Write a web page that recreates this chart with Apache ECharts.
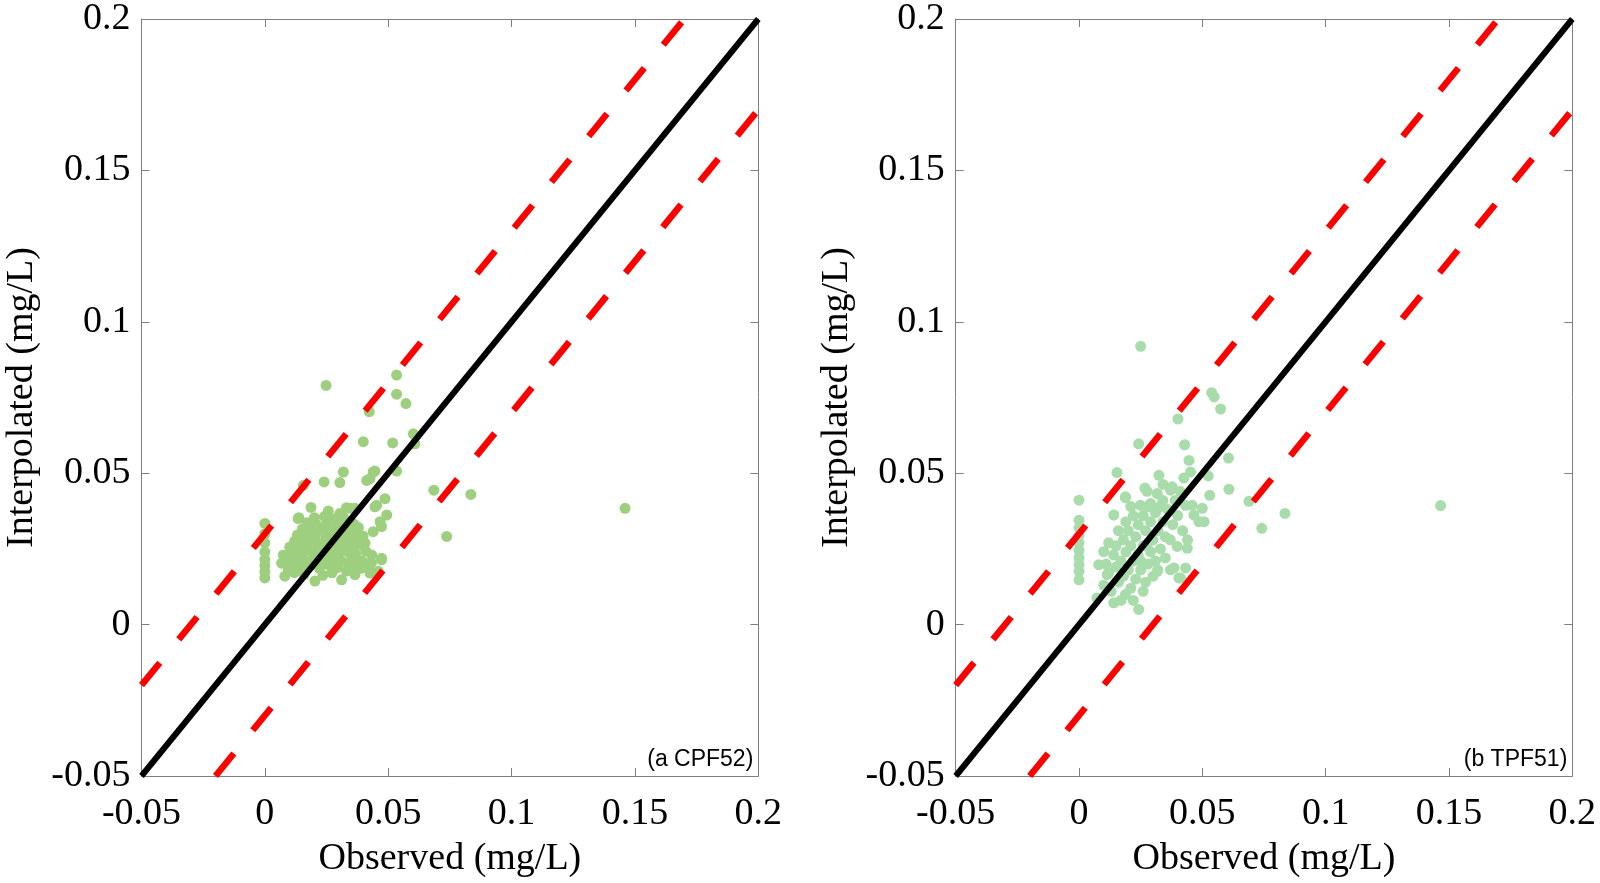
<!DOCTYPE html>
<html>
<head>
<meta charset="utf-8">
<script src="https://cdn.jsdelivr.net/npm/echarts@6/dist/echarts.min.js"></script>
<style>
html,body{margin:0;padding:0;background:#fff;}
#chart{width:1600px;height:883px;}
</style>
</head>
<body>
<div id="chart"></div>
<script>
// ---- data ----
var axisMin = -0.05, axisMax = 0.2, axisStep = 0.05;
var tickLabels = ['-0.05', '0', '0.05', '0.1', '0.15', '0.2'];
var xTitle = 'Observed (mg/L)';
var yTitle = 'Interpolated (mg/L)';
var panelLabels = ['(a CPF52)', '(b TPF51)'];

var oneToOne = [[-0.05, -0.05], [0.2, 0.2]];
var upperBand = [[-0.05, -0.02], [0.17, 0.2]];
var lowerBand = [[-0.02, -0.05], [0.2, 0.17]];

var cpf52 = [
  [0,0.0154],[0,0.0175],[0,0.0195],[0,0.0215],[0,0.024],[0,0.027],[0,0.030],[0,0.0334],
  [0.0248,0.079],[0.0534,0.0824],[0.0534,0.0761],[0.0572,0.073],[0.0423,0.0703],[0.0399,0.0604],
  [0.0518,0.060],[0.0602,0.063],[0.0608,0.0597],[0.0318,0.0504],[0.0446,0.0507],[0.0534,0.0507],
  [0.0439,0.0504],[0.024,0.0471],[0.0304,0.0469],[0.0426,0.0482],[0.0413,0.0476],[0.0156,0.046],
  [0.0685,0.0444],[0.0835,0.043],[0.0737,0.0291],[0.146,0.0384],
  [0.0187,0.0387],[0.0257,0.0375],[0.0138,0.0353],[0.0331,0.0386],[0.0365,0.0384],[0.0453,0.0394],
  [0.0487,0.0416],[0.0494,0.0362],[0.0467,0.034],[0.0446,0.0389],[0.0473,0.0324],[0.0304,0.0367],
  [0.0345,0.0384],[0.0439,0.0307],[0.0406,0.0269],[0.0433,0.023],[0.0473,0.0214],[0.046,0.0176],
  [0.0426,0.0176],[0.0473,0.0219],
  [0.0081,0.016],[0.0203,0.0144],[0.0311,0.0148],[0.0365,0.0165],[0.0426,0.017],[0.0075,0.023],
  [0.0068,0.0203],[0.0095,0.0181],[0.0135,0.035],
  [0.012,0.0172],[0.016,0.0166],[0.0235,0.0163],[0.0272,0.0171],[0.0331,0.0177],[0.0388,0.0186],
  [0.0108,0.0196],[0.0143,0.0189],[0.0182,0.0193],[0.0221,0.0186],[0.0258,0.0197],[0.0293,0.0188],[0.0342,0.0199],[0.0371,0.0191],[0.0412,0.0201],
  [0.0092,0.0213],[0.0129,0.0216],[0.0163,0.0209],[0.0198,0.0215],[0.0243,0.0207],[0.0281,0.0217],[0.0312,0.0209],[0.0352,0.0219],[0.0392,0.0211],[0.0432,0.0204],
  [0.0112,0.0236],[0.0151,0.0231],[0.0188,0.0239],[0.0223,0.0229],[0.0262,0.0237],[0.0297,0.0231],[0.0334,0.0241],[0.0368,0.0233],[0.0409,0.0243],
  [0.0101,0.0256],[0.0139,0.0251],[0.0172,0.0259],[0.0211,0.0249],[0.0248,0.0257],[0.0283,0.0251],[0.0318,0.0261],[0.0357,0.0253],[0.0392,0.0263],
  [0.0121,0.0276],[0.0158,0.0271],[0.0202,0.0279],[0.0232,0.0269],[0.0269,0.0277],[0.0308,0.0271],[0.0343,0.0281],[0.0378,0.0273],
  [0.0132,0.0296],[0.0171,0.0291],[0.0209,0.0299],[0.0249,0.0289],[0.0288,0.0297],[0.0322,0.0291],[0.0361,0.0301],[0.0398,0.0293],
  [0.0152,0.0316],[0.0189,0.0311],[0.0231,0.0319],[0.0268,0.0309],[0.0301,0.0317],[0.0339,0.0311],[0.0379,0.0321],
  [0.0171,0.0336],[0.0208,0.0331],[0.0252,0.0339],[0.0291,0.0329],[0.0329,0.0337],[0.0362,0.0331],
  [0.0201,0.0353],[0.0242,0.0357],[0.0279,0.0349],[0.0318,0.0356]
];

var tpf51 = [
  [0,0.0148],[0,0.0176],[0,0.0198],[0,0.022],[0,0.0245],[0,0.027],[0,0.0295],[0,0.032],[0,0.0345],[0,0.0411],
  [0.025,0.0919],[0.0538,0.0766],[0.0548,0.0752],[0.0574,0.0712],[0.0401,0.0679],[0.0242,0.0597],
  [0.0428,0.0594],[0.0446,0.0542],[0.0606,0.055],[0.0154,0.0502],[0.0324,0.0493],[0.0267,0.0451],
  [0.0188,0.0419],[0.0341,0.0463],[0.0378,0.0455],[0.0425,0.0484],[0.0452,0.0504],[0.0524,0.0491],
  [0.0608,0.0447],[0.0689,0.0407],[0.0741,0.0318],[0.0835,0.0367],[0.1466,0.0393],[0.053,0.0427],
  [0.0459,0.0394],[0.0486,0.034],[0.05,0.0384],[0.0141,0.0362],[0.0188,0.0422],[0.0276,0.044],
  [0.0317,0.0433],[0.0371,0.0444],[0.0249,0.0394],[0.029,0.04],[0.0432,0.0394],[0.0466,0.0362],[0.0507,0.034],
  [0.0141,0.0072],[0.0242,0.005],[0.0188,0.0099],[0.0073,0.0088],[0.0371,0.0181],[0.0405,0.0154],
  [0.0432,0.0187],[0.0317,0.0176],[0.0439,0.0252],[0.0398,0.0258],[0.01,0.0241],[0.008,0.0198],
  [0.0114,0.0165],[0.0385,0.0187],[0.0411,0.0154],
  [0.010,0.013],[0.013,0.011],[0.016,0.014],[0.012,0.017],[0.015,0.019],[0.018,0.016],[0.021,0.012],
  [0.020,0.018],[0.023,0.015],[0.017,0.021],[0.014,0.023],[0.019,0.024],[0.022,0.021],[0.025,0.018],
  [0.027,0.014],[0.028,0.020],[0.024,0.023],[0.021,0.026],[0.018,0.028],[0.016,0.031],[0.020,0.031],
  [0.023,0.029],[0.026,0.026],[0.029,0.024],[0.031,0.021],[0.033,0.025],[0.030,0.028],[0.027,0.031],
  [0.024,0.033],[0.022,0.036],[0.026,0.036],[0.029,0.034],[0.032,0.031],[0.035,0.029],[0.034,0.034],
  [0.031,0.037],[0.028,0.039],[0.036,0.038],[0.038,0.033],[0.040,0.036],[0.039,0.041],[0.034,0.041],
  [0.037,0.028],[0.035,0.022],[0.012,0.027],[0.015,0.026],[0.019,0.034],[0.030,0.016],[0.026,0.011],
  [0.032,0.018],[0.042,0.031],[0.044,0.028],[0.017,0.008],[0.022,0.008],[0.011,0.020],[0.025,0.021],
  [0.028,0.027],[0.033,0.039],[0.041,0.044],[0.021,0.039]
];

var pointColors = ['#9dcf7f', '#a8dcaa'];
var panels = [cpf52, tpf51];

// ---- chart ----
var chart = echarts.init(document.getElementById('chart'), null, {renderer: 'canvas'});
var gray = '#7f7f7f';
var serif = 'Liberation Serif';

function fmt(v) {
  var s = String(+v.toFixed(2));
  return tickLabels.indexOf(s) >= 0 ? s : '';
}

var grids = [
  {left: 141.5, top: 17.3, width: 616.8, height: 762},
  {left: 955.7, top: 17.3, width: 616.6, height: 762}
];

var xAxes = [], yAxes = [], series = [], graphics = [];
grids.forEach(function (g, i) {
  var base = {
    gridIndex: i, type: 'value', min: axisMin, max: axisMax, interval: axisStep,
    axisLine: {show: true, onZero: false, lineStyle: {color: gray, width: 1}},
    axisTick: {show: true, inside: true, length: 8, lineStyle: {color: gray, width: 1}},
    splitLine: {show: false}
  };
  xAxes.push(Object.assign({}, base, {
    position: 'bottom',
    name: xTitle, nameLocation: 'middle', nameGap: 64,
    nameTextStyle: {fontFamily: serif, fontSize: 38, color: '#000'},
    axisLabel: {show: true, margin: 19, fontFamily: serif, fontSize: 38, color: '#000', formatter: fmt}
  }));
  xAxes.push(Object.assign({}, base, {position: 'top', axisLabel: {show: false}}));
  yAxes.push(Object.assign({}, base, {
    position: 'left',
    name: yTitle, nameLocation: 'middle', nameGap: 100,
    nameTextStyle: {fontFamily: serif, fontSize: 38, color: '#000'},
    axisLabel: {show: true, margin: 11, fontFamily: serif, fontSize: 38, color: '#000', formatter: fmt}
  }));
  yAxes.push(Object.assign({}, base, {position: 'right', axisLabel: {show: false}}));

  var xi = i * 2, yi = i * 2;
  series.push({
    type: 'scatter', xAxisIndex: xi, yAxisIndex: yi, data: panels[i],
    symbol: 'circle', symbolSize: 11, itemStyle: {color: pointColors[i], opacity: 1},
    z: 2, silent: true
  });
  series.push({
    type: 'line', xAxisIndex: xi, yAxisIndex: yi, data: oneToOne, symbol: 'none',
    lineStyle: {color: '#000', width: 6}, z: 4, silent: true, animation: false
  });
  [upperBand, lowerBand].forEach(function (d) {
    series.push({
      type: 'line', xAxisIndex: xi, yAxisIndex: yi, data: d, symbol: 'none',
      lineStyle: {color: '#ff0000', width: 6.5, type: [29, 30], cap: 'butt'}, z: 3, silent: true, animation: false
    });
  });
  graphics.push({
    type: 'text', right: 1600 - (g.left + g.width) + 5, top: 748,
    style: {text: panelLabels[i], fontFamily: 'Liberation Sans', fontSize: 23, fill: '#000'}
  });
});

chart.setOption({
  animation: false,
  backgroundColor: '#fff',
  grid: grids,
  xAxis: xAxes,
  yAxis: yAxes,
  series: series,
  graphic: graphics
});
</script>
</body>
</html>
